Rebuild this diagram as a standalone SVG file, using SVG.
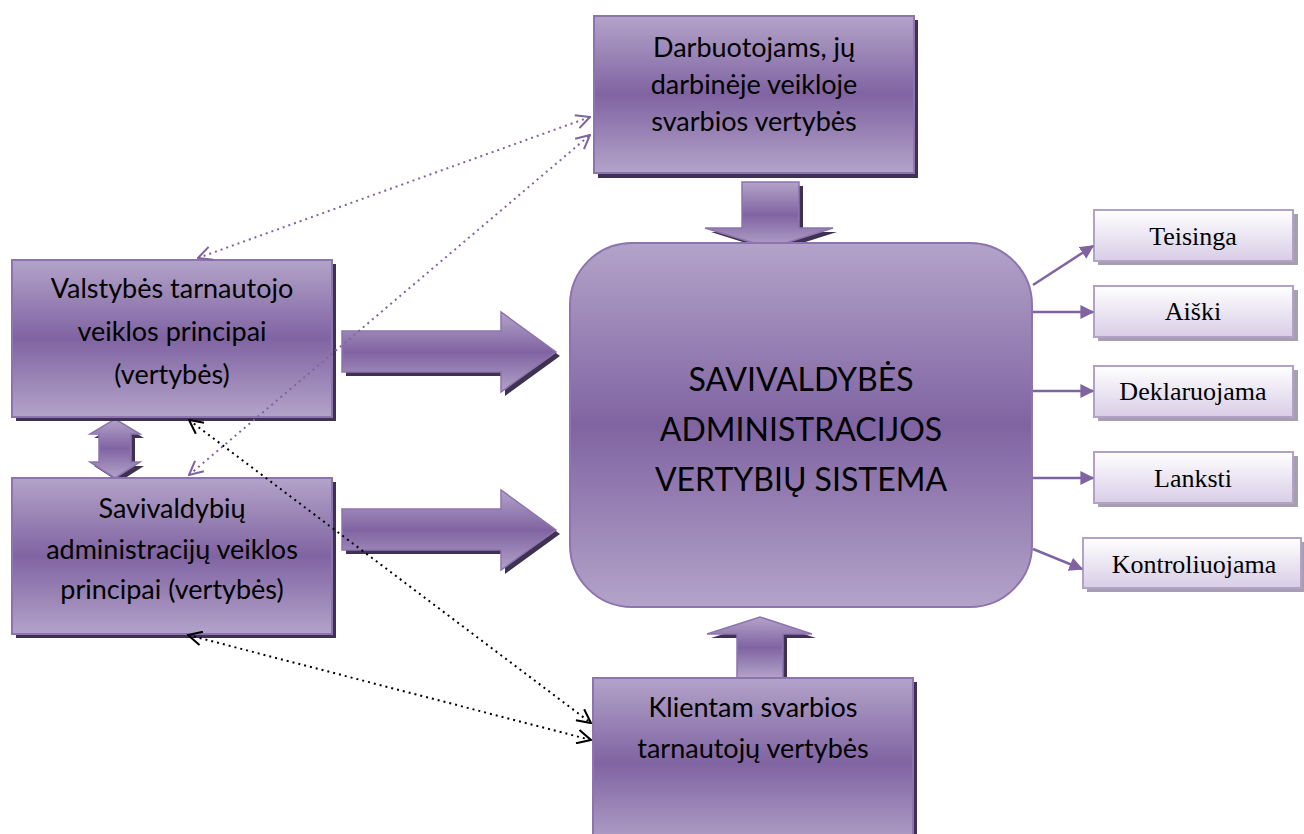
<svg xmlns="http://www.w3.org/2000/svg" width="1304" height="834" viewBox="0 0 1304 834">
<defs>
<linearGradient id="gV" x1="0" y1="0" x2="0" y2="1">
<stop offset="0" stop-color="#b3a3c9"/>
<stop offset="0.5" stop-color="#8064a2"/>
<stop offset="1" stop-color="#b3a3c9"/>
</linearGradient>
<linearGradient id="gL" x1="0" y1="0" x2="0" y2="1">
<stop offset="0" stop-color="#ffffff"/>
<stop offset="1" stop-color="#d8cde6"/>
</linearGradient>
<marker id="openP" viewBox="0 0 14 14" refX="13" refY="7" markerWidth="16" markerHeight="16" markerUnits="userSpaceOnUse" orient="auto-start-reverse">
<path d="M1,1 L13,7 L1,13" fill="none" stroke="#8064a2" stroke-width="1.8" stroke-dasharray="none"/>
</marker>
<marker id="openK" viewBox="0 0 14 14" refX="13" refY="7" markerWidth="16" markerHeight="16" markerUnits="userSpaceOnUse" orient="auto-start-reverse">
<path d="M1,1 L13,7 L1,13" fill="none" stroke="#000" stroke-width="1.8" stroke-dasharray="none"/>
</marker>
<marker id="solid" viewBox="0 0 10 10" refX="9" refY="5" markerWidth="14" markerHeight="14" markerUnits="userSpaceOnUse" orient="auto">
<path d="M0,0 L10,5 L0,10 Z" fill="#8064a2"/>
</marker>
<style>
.box{fill:url(#gV);stroke:#8d74ae;stroke-width:2}
.shadow{fill:#3f3151}
.lbox{fill:url(#gL);stroke:#b3a2c7;stroke-width:2}
.lshadow{fill:#a79fb0}
.t{font-family:Lato,"Liberation Sans",sans-serif;font-size:27px;fill:#000;text-anchor:middle}
.tc{font-family:Lato,"Liberation Sans",sans-serif;font-size:32px;fill:#000;text-anchor:middle}
.ts{font-family:"Liberation Serif",serif;font-size:26px;fill:#000;text-anchor:middle}
.arr{fill:url(#gV);stroke:#8d74ae;stroke-width:1.5}
.dotP{fill:none;stroke:#8064a2;stroke-width:2;stroke-dasharray:2 4}
.dotK{fill:none;stroke:#000;stroke-width:2;stroke-dasharray:2 4}
.sol{fill:none;stroke:#8064a2;stroke-width:2.5}
</style>
</defs>

<g id="block-arrows">
<path class="shadow" d="M746,186 L803,186 L803,232 L837,232 L774,252 L711,232 L746,232 Z"/>
<path class="arr" d="M742,182 L799,182 L799,228 L833,228 L770,248 L705,228 L742,228 Z"/>
<path class="shadow" d="M346,335 L505,335 L505,316 L560,356 L505,396 L505,376 L346,376 Z"/>
<path class="arr" d="M342,331 L501,331 L501,312 L556,352 L501,392 L501,372 L342,372 Z"/>
<path class="shadow" d="M346,513 L505,513 L505,494 L560,534 L505,574 L505,554 L346,554 Z"/>
<path class="arr" d="M342,509 L501,509 L501,490 L556,530 L501,570 L501,550 L342,550 Z"/>
<path class="shadow" d="M741,682 L787,682 L787,638 L816,638 L764,621 L711,638 L741,638 Z"/>
<path class="arr" d="M737,678 L783,678 L783,634 L812,634 L760,617 L707,634 L737,634 Z"/>
<path class="shadow" d="M119,423 L144,438 L135,438 L135,466 L144,466 L119,482 L94,466 L103,466 L103,438 L94,438 Z"/>
<path class="arr" d="M115,419 L140,434 L131,434 L131,462 L140,462 L115,478 L90,462 L99,462 L99,434 L90,434 Z"/>
</g>

<g id="node-darbuotojams">
<rect class="shadow" x="598" y="20" width="320" height="158"/>
<rect class="box" x="594" y="16" width="320" height="157"/>
<text class="t" x="754" y="57">Darbuotojams, jų</text>
<text class="t" x="754" y="94">darbinėje veikloje</text>
<text class="t" x="754" y="131">svarbios vertybės</text>
</g>

<g id="node-valstybes">
<rect class="shadow" x="16" y="264" width="320" height="157"/>
<rect class="box" x="12" y="260" width="320" height="157"/>
<text class="t" x="172" y="298">Valstybės tarnautojo</text>
<text class="t" x="172" y="341">veiklos principai</text>
<text class="t" x="172" y="384">(vertybės)</text>
</g>

<g id="node-savivaldybiu">
<rect class="shadow" x="16" y="482" width="320" height="156"/>
<rect class="box" x="12" y="478" width="320" height="156"/>
<text class="t" x="172" y="518">Savivaldybių</text>
<text class="t" x="172" y="559">administracijų veiklos</text>
<text class="t" x="172" y="599">principai (vertybės)</text>
</g>

<g id="node-klientam">
<rect class="shadow" x="597" y="682" width="320" height="170"/>
<rect class="box" x="593" y="678" width="320" height="170"/>
<text class="t" x="753" y="717">Klientam svarbios</text>
<text class="t" x="753" y="758">tarnautojų vertybės</text>
</g>

<g id="node-center">
<rect class="box" x="570" y="243" width="462" height="364" rx="62" ry="62"/>
<text class="tc" x="801" y="391">SAVIVALDYBĖS</text>
<text class="tc" x="801" y="441">ADMINISTRACIJOS</text>
<text class="tc" x="801" y="491">VERTYBIŲ SISTEMA</text>
</g>

<g id="node-teisinga">
<rect class="lshadow" x="1098" y="214" width="200" height="51"/>
<rect class="lbox" x="1094" y="210" width="199" height="51"/>
<text class="ts" x="1193" y="245">Teisinga</text>
</g>
<g id="node-aiski">
<rect class="lshadow" x="1098" y="290" width="200" height="51"/>
<rect class="lbox" x="1094" y="286" width="199" height="51"/>
<text class="ts" x="1193" y="320">Aiški</text>
</g>
<g id="node-deklaruojama">
<rect class="lshadow" x="1098" y="370" width="200" height="51"/>
<rect class="lbox" x="1094" y="366" width="199" height="51"/>
<text class="ts" x="1193" y="400">Deklaruojama</text>
</g>
<g id="node-lanksti">
<rect class="lshadow" x="1098" y="456" width="200" height="51"/>
<rect class="lbox" x="1094" y="452" width="199" height="51"/>
<text class="ts" x="1193" y="487">Lanksti</text>
</g>
<g id="node-kontroliuojama">
<rect class="lshadow" x="1087" y="542" width="218" height="50"/>
<rect class="lbox" x="1083" y="538" width="218" height="50"/>
<text class="ts" x="1194" y="573">Kontroliuojama</text>
</g>

<g id="connectors">
<line class="sol" x1="1033" y1="285" x2="1093" y2="246" marker-end="url(#solid)"/>
<line class="sol" x1="1033" y1="312" x2="1093" y2="312" marker-end="url(#solid)"/>
<line class="sol" x1="1033" y1="391" x2="1093" y2="391" marker-end="url(#solid)"/>
<line class="sol" x1="1033" y1="478" x2="1093" y2="478" marker-end="url(#solid)"/>
<line class="sol" x1="1033" y1="549" x2="1082" y2="569" marker-end="url(#solid)"/>
<line class="dotP" x1="198" y1="258" x2="590" y2="117" marker-start="url(#openP)" marker-end="url(#openP)"/>
<line class="dotP" x1="189" y1="475" x2="590" y2="135" marker-start="url(#openP)" marker-end="url(#openP)"/>
<line class="dotK" x1="189" y1="420" x2="591" y2="723" marker-start="url(#openK)" marker-end="url(#openK)"/>
<line class="dotK" x1="188" y1="635" x2="591" y2="740" marker-start="url(#openK)" marker-end="url(#openK)"/>
</g>
</svg>
